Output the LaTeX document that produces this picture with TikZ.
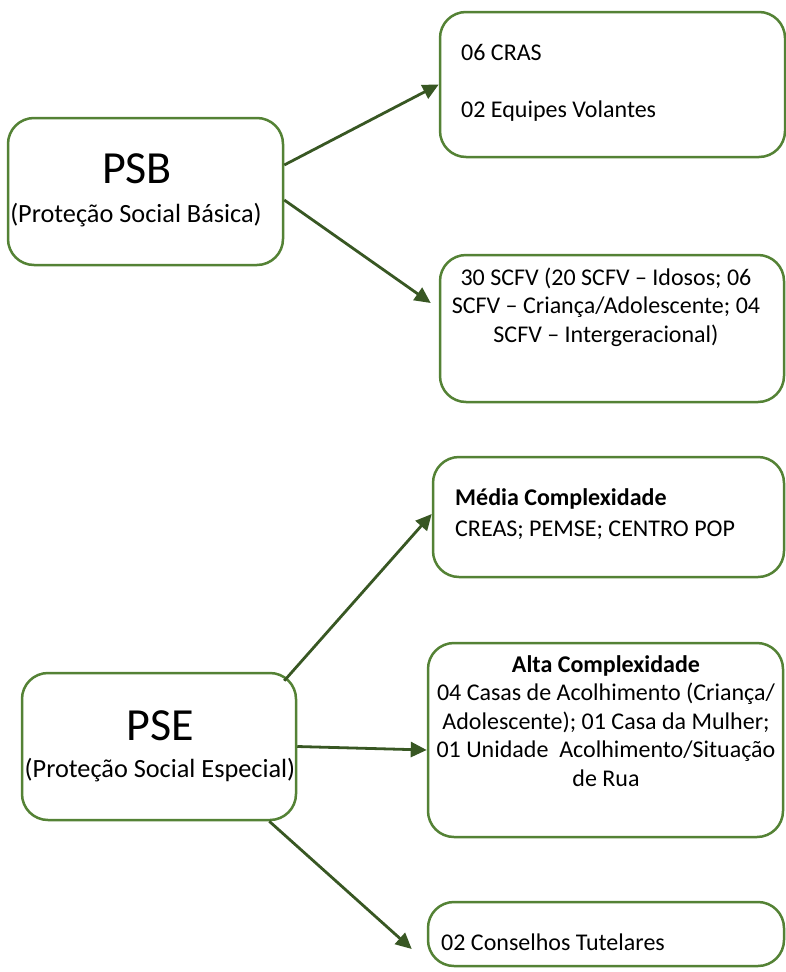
\documentclass[tikz,border=0pt]{standalone}
\usepackage{fontspec}
\setmainfont{Carlito}
\usetikzlibrary{arrows.meta}
\definecolor{boxgreen}{RGB}{84,130,53}
\definecolor{arrowgreen}{RGB}{56,87,35}

\begin{document}
\begin{tikzpicture}[
	x=1pt, y=-1pt,
	panel/.style={draw=boxgreen, fill=white, line width=2.5pt, rounded corners=26pt, inner sep=0pt},
	arr/.style={draw=arrowgreen, line width=2.8pt, -{Triangle[length=16pt,width=15pt]}},
	bigtitle/.style={font=\fontsize{46}{50}\selectfont, inner sep=0pt, anchor=base},
	subtitle/.style={font=\fontsize{26.3}{30}\selectfont, inner sep=0pt, anchor=base},
	txt/.style={font=\fontsize{24}{28.5}\selectfont, inner sep=0pt, anchor=base}
	]
	\useasboundingbox (0,0) rectangle (786,972);

	\node[panel, minimum width=275pt, minimum height=147pt] (psb) at (145.5,191.5) {};
	\node[panel, minimum width=345pt, minimum height=145pt] (cras) at (612.5,84.5) {};
	\node[panel, minimum width=344pt, minimum height=147pt] (scfv) at (612,328.5) {};
	\node[panel, minimum width=351pt, minimum height=120pt] (media) at (608.5,517) {};
	\node[panel, minimum width=274pt, minimum height=147pt] (pse) at (159,746.5) {};
	\node[panel, minimum width=355pt, minimum height=194pt] (alta) at (605.5,740) {};
	\node[panel, minimum width=356pt, minimum height=64pt] (conselhos) at (606,934) {};

	\draw[arr] ([yshift=26.5pt]psb.east) -- (cras.west);
	\draw[arr] ([yshift=-8.5pt]psb.east) -- ([xshift=-8pt,yshift=25.5pt]scfv.west);
	\draw[arr] ([xshift=-13pt,yshift=-9pt]pse.north east) -- ([yshift=3pt]media.west);
	\draw[arr] (pse.east) -- ([yshift=-10pt]alta.west);
	\draw[arr] ([xshift=-28pt]pse.south east) -- ([xshift=-15pt,yshift=-15pt]conselhos.west);

	\node[bigtitle] (psbname) at (137,183) {PSB};
	\node[subtitle] (psbsub) at (136,222) {(Proteção Social Básica)};
	\node[bigtitle] (psename) at (160.5,740) {PSE};
	\node[subtitle] (psesub) at (160,777) {(Proteção Social Especial)};

	\node[txt, anchor=base west, text width=320pt, align=flush left] (crastxt) at (461,60)
		{06 CRAS\\[28.5pt]02 Equipes Volantes};
	\node[txt, text width=340pt, align=flush center] (scfvtxt) at (606,285)
		{30 SCFV (20 SCFV – Idosos; 06\\SCFV – Criança/Adolescente; 04\\SCFV – Intergeracional)};
	\node[txt, anchor=base west, text width=320pt, align=flush left] (mediatxt) at (455,505)
		{\textbf{Média Complexidade}\\[2.5pt]CREAS; PEMSE; CENTRO POP};
	\node[txt, text width=350pt, align=flush center] (altatxt) at (606,672)
		{\textbf{Alta Complexidade}\\04 Casas de Acolhimento (Criança/\\Adolescente); 01 Casa da Mulher;\\01 Unidade\ \ Acolhimento/Situação\\de Rua};
	\node[txt, anchor=base west] (constxt) at (441,950) {02 Conselhos Tutelares};
\end{tikzpicture}
\end{document}
